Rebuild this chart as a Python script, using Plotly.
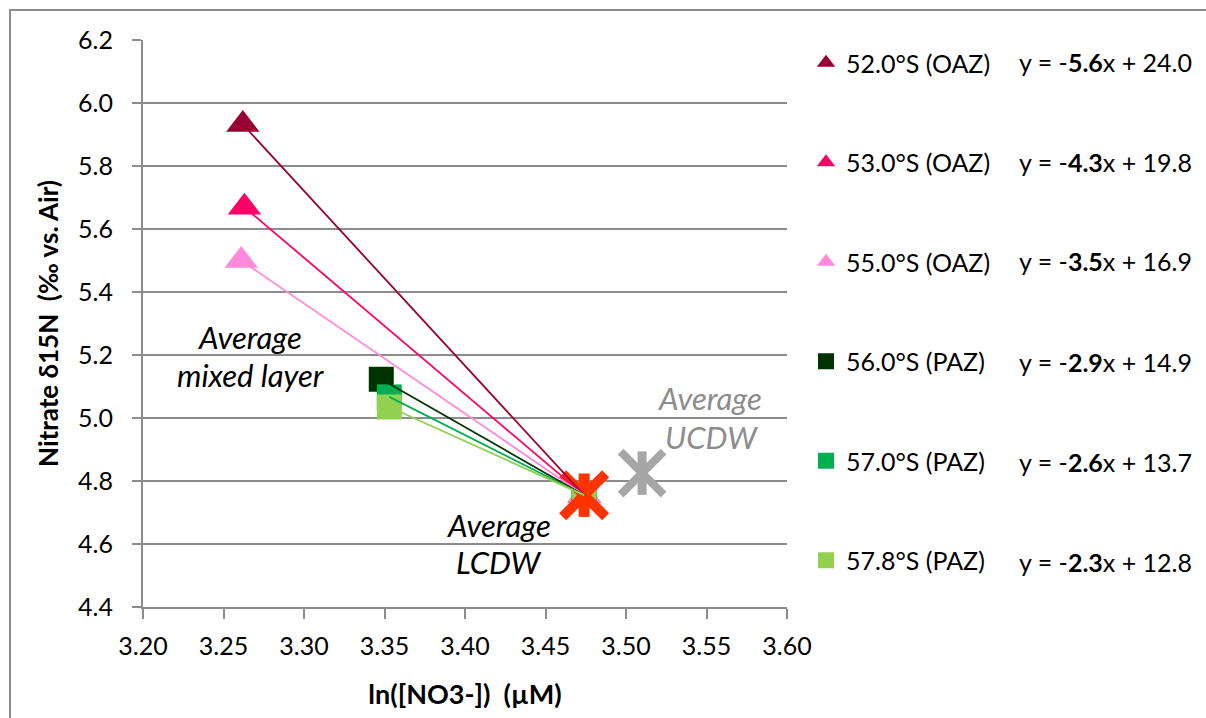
import numpy as np
import plotly.graph_objects as go

# Mixed-layer averages per station: ln([NO3-]) (µM) and nitrate d15N (‰ vs. Air)
stations = ["52.0°S (OAZ)", "53.0°S (OAZ)", "55.0°S (OAZ)",
            "56.0°S (PAZ)", "57.0°S (PAZ)", "57.8°S (PAZ)"]
ml_ln_no3 = [3.262, 3.263, 3.261, 3.348, 3.353, 3.353]
ml_d15n = [5.932, 5.669, 5.500, 5.123, 5.067, 5.035]
station_symbols = ["triangle-up", "triangle-up", "triangle-up",
                   "square", "square", "square"]
station_colors = ["#990033", "#FF0066", "#FF8ADB",
                  "#003300", "#00B050", "#92D050"]

# Deep-water end members
lcdw_ln_no3 = [3.474]
lcdw_d15n = [4.755]
ucdw_ln_no3 = [3.510]
ucdw_d15n = [4.825]

x_ticks = [3.20, 3.25, 3.30, 3.35, 3.40, 3.45, 3.50, 3.55, 3.60]
y_ticks = [4.4, 4.6, 4.8, 5.0, 5.2, 5.4, 5.6, 5.8, 6.0, 6.2]

FONT = "Lato"
GRID = "#8C8C8C"
W, H = 1206, 718
ML, MR, MT, MB = 143, 419, 40, 111
PW, PH = W - ML - MR, H - MT - MB
NB = "\u00a0"


def px_x(p):
    return (p - ML) / PW


def px_y(p):
    return (H - MB - p) / PH


fig = go.Figure()

fits = []
for name, x0, y0, sym, col in zip(stations, ml_ln_no3, ml_d15n,
                                    station_symbols, station_colors):
    xs = [x0, lcdw_ln_no3[0]]
    ys = [y0, lcdw_d15n[0]]
    fits.append(np.polyfit(xs, ys, 1))
    size = 29 if sym == "triangle-up" else 25
    fig.add_trace(go.Scatter(
        x=xs, y=ys, mode="markers", name=name, legendgroup=name,
        marker=dict(symbol=sym, size=size, color=col, line=dict(width=0)),
    ))

# LCDW and UCDW end members drawn as Excel-style stars (X plus vertical bar)
for xs, ys, col, w, sx in [(ucdw_ln_no3, ucdw_d15n, "#A6A6A6", 8, 43),
                           (lcdw_ln_no3, lcdw_d15n, "#FF3300", 10, 43)]:
    fig.add_trace(go.Scatter(
        x=xs, y=ys, mode="markers", showlegend=False,
        marker=dict(symbol="x-thin", size=sx, line=dict(width=w, color=col)),
    ))
    fig.add_trace(go.Scatter(
        x=xs, y=ys, mode="markers", showlegend=False,
        marker=dict(symbol="line-ns", size=31, line=dict(width=w + 1, color=col)),
    ))

# Linear trend lines through each station and LCDW
for (m, b), x0, col in zip(fits, ml_ln_no3, station_colors):
    xs = np.array([x0, lcdw_ln_no3[0]])
    fig.add_trace(go.Scatter(
        x=xs, y=m * xs + b, mode="lines", showlegend=False,
        line=dict(color=col, width=1.8),
    ))

annotations = []
# Trend-line equations next to the legend entries
row_px = [62, 162, 261, 362, 462, 562]
for (m, b), py in zip(fits, row_px):
    sign = "-" if m < 0 else ""
    bsign = "+" if b >= 0 else "-"
    txt = f"y = {sign}<b>{abs(m):.1f}</b>x {bsign} {abs(b):.1f}"
    annotations.append(dict(
        x=px_x(1017), y=px_y(py), xref="paper", yref="paper",
        xanchor="left", yanchor="middle", showarrow=False, text=txt,
        font=dict(family=FONT, size=25, color="#000000"),
    ))

labels = [
    ("Average", 3.2665, 5.257, "#000000"),
    ("mixed layer", 3.2671, 5.1365, "#000000"),
    ("Average", 3.4211, 4.6603, "#000000"),
    ("LCDW", 3.4211, 4.543, "#000000"),
    ("Average", 3.5522, 5.0635, "#8C8C8C"),
    ("UCDW", 3.5534, 4.9397, "#8C8C8C"),
]
for txt, lx, ly, col in labels:
    annotations.append(dict(
        x=lx, y=ly, xref="x", yref="y", showarrow=False,
        xanchor="center", yanchor="middle", text=f"<i>{txt}</i>",
        font=dict(family=FONT, size=31, color=col),
    ))

fig.update_layout(
    width=W, height=H,
    margin=dict(l=ML, r=MR, t=MT, b=MB, autoexpand=False),
    paper_bgcolor="white", plot_bgcolor="white",
    font=dict(family=FONT, size=25, color="#000000"),
    showlegend=True,
    legend=dict(
        x=px_x(806), y=px_y(40), xanchor="left", yanchor="top",
        tracegroupgap=64, bgcolor="rgba(0,0,0,0)",
        font=dict(family=FONT, size=25, color="#000000"),
    ),
    xaxis=dict(
        range=[x_ticks[0], x_ticks[-1]], tickvals=x_ticks,
        ticktext=[f"{v:.2f}" for v in x_ticks],
        showgrid=False, zeroline=False,
        showline=True, linecolor=GRID, linewidth=2,
        ticks="outside", ticklen=10, tickwidth=2, tickcolor=GRID,
        ticklabelstandoff=6,
        tickfont=dict(family=FONT, size=25, color="#000000"),
        title=dict(text=f"<b>ln([NO3-]){NB}{NB}(µM)</b>", standoff=26,
                   font=dict(family=FONT, size=27, color="#000000")),
    ),
    yaxis=dict(
        range=[y_ticks[0], y_ticks[-1]], tickvals=y_ticks,
        ticktext=[f"{v:.1f}" for v in y_ticks],
        showgrid=True, gridcolor=GRID, gridwidth=2, zeroline=False,
        showline=True, linecolor=GRID, linewidth=2,
        ticks="outside", ticklen=9, tickwidth=2, tickcolor=GRID,
        ticklabelstandoff=14,
        tickfont=dict(family=FONT, size=25, color="#000000"),
        title=dict(text=f"<b>Nitrate δ15N{NB}{NB}(‰ vs. Air)</b>", standoff=12,
                   font=dict(family=FONT, size=26, color="#000000")),
    ),
    annotations=annotations,
    shapes=[dict(
        type="rect", xref="paper", yref="paper",
        x0=px_x(10), x1=px_x(W + 20), y0=px_y(H + 20), y1=px_y(10),
        line=dict(color=GRID, width=2), fillcolor="rgba(0,0,0,0)",
        layer="below",
    )],
)

fig.write_html("out.html")
